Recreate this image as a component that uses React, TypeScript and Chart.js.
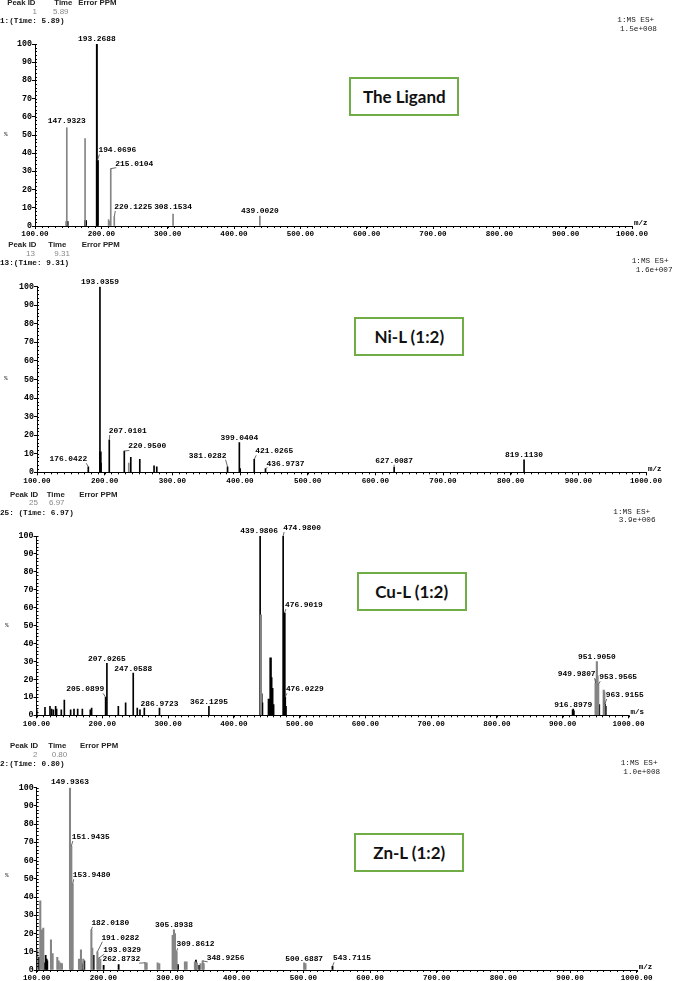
import React, { useEffect, useRef } from "react";
import { Chart, registerables } from "chart.js";
Chart.register(...registerables);

// ================= DATA =================
// Axis ticks
const xTickStep = 100;
const xMin = 100;
const xMax = 1000;
const yTickStep = 10;

// ---- Panel 1: The Ligand ----
const ligGreyMz = [147.93, 175.5, 211, 213, 214.2, 219.5, 308.15, 439.0];
const ligGreyInt = [54, 48, 3.5, 2.5, 31.5, 5, 6.5, 5.5];
const ligBlackMz = [193.27];
const ligBlackInt = [100];
const ligBoldMz = [148.4, 176.2, 194.07];
const ligBoldInt = [2.5, 3, 36];
const ligLabelText = ["193.2688", "147.9323", "194.0696", "215.0104", "220.1225", "308.1534", "439.0020"];
const ligLabelMz = [193.27, 147.93, 194.07, 214.2, 219.5, 308.15, 439.0];
const ligLabelInt = [100, 54, 36, 31.5, 5, 6.5, 5.5];

// ---- Panel 2: Ni-L (1:2) ----
const niGreyMz = [235.6];
const niGreyInt = [5];
const niBlackMz = [175.8, 193.04, 194.6, 206.8, 229, 238.6, 251.9, 273, 277, 381.6, 399.04, 400.3, 421.03, 437.7, 627.8, 819.8];
const niBlackInt = [3, 100, 5, 17.4, 11.5, 8, 7, 3.5, 3, 3, 16, 2, 7, 2, 2.7, 6.7];
const niBoldMz = [193.6];
const niBoldInt = [11];
const niLabelText = ["176.0422", "193.0359", "207.0101", "220.9500", "381.0282", "399.0404", "421.0265", "436.9737", "627.0087", "819.1130"];
const niLabelMz = [175.8, 193.04, 206.8, 229, 381.6, 399.04, 421.03, 437.7, 627.8, 819.8];
const niLabelInt = [3, 100, 17.4, 11.5, 3, 16, 7, 2, 2.7, 6.7];

// ---- Panel 3: Cu-L (1:2) ----
const cuGreyMz = [441.2, 949.98, 950.9, 951.9, 952.9, 953.96, 962.4, 963.2];
const cuGreyInt = [56, 18, 20, 30, 22, 17, 14, 13];
const cuBlackMz = [100.5, 112.9, 120.5, 123.0, 125.6, 129.1, 130.6, 137.7, 142.3, 151.9, 157.0, 162.6, 169.7, 181.8, 183.8, 205.09, 207.03, 224.4, 235.5, 247.06, 253.2, 257.3, 263.9, 286.97, 362.13, 439.98, 474.98, 915.0, 916.0, 917.0];
const cuBlackInt = [3, 4.5, 5, 3.5, 3, 5, 3.5, 3, 8.5, 3, 3.5, 3.5, 3.5, 3, 4, 10, 29, 5, 7, 23.5, 4, 3, 4, 4, 5, 100, 100, 3, 3.5, 2.5];
const cuBoldMz = [441.9, 442.9, 453.3, 455.9, 456.9, 458.4, 459.9, 476.9, 477.6, 478.7, 951.5, 952.5, 955.0, 963.9, 964.9];
const cuBoldInt = [12, 7, 9, 32, 21, 15, 6, 57, 10, 5, 11, 10, 6, 6.3, 5];
const cuLabelText = ["439.9806", "474.9800", "476.9019", "476.0229", "207.0265", "205.0899", "247.0588", "286.9723", "362.1295", "916.8979", "949.9807", "951.9050", "953.9565", "963.9155"];
const cuLabelMz = [439.98, 474.98, 476.9, 477.6, 207.03, 205.09, 247.06, 286.97, 362.13, 916.0, 949.98, 951.9, 953.96, 963.9];
const cuLabelInt = [100, 100, 57, 10, 29, 10, 23.5, 4, 5, 3.5, 18, 30, 17, 6.3];

// ---- Panel 4: Zn-L (1:2) ----
const znGreyMz = [100.9, 105.4, 107.9, 109.9, 121.4, 123.9, 130.9, 132.9, 135.4, 137.9, 149.94, 151.94, 153.95, 163.4, 165.4, 166.4, 169.9, 182.02, 183.4, 191.03, 193.03, 195.4, 262.87, 264.9, 281.4, 283.9, 303.9, 305.89, 307.4, 309.86, 322.3, 324.8, 337.3, 340.3, 345.8, 348.93, 350.5, 501.2, 503.2];
const znGreyInt = [11, 38, 22, 23, 16.5, 9, 7, 5, 4, 3.5, 100, 68, 47, 6, 5, 11, 6, 22, 12, 10, 6.5, 6, 4, 4, 4, 3.5, 19, 22, 20, 10, 4.5, 4.5, 4.5, 4, 3.5, 5, 3.5, 4, 3.5];
const znBlackMz = [103.4, 111.4, 113.4, 114.9, 115.9, 153.0, 167.4, 168.9, 171.4, 185.4, 200.4, 222.9, 311.9, 338.8, 343.8, 543.71];
const znBlackInt = [7, 4, 8, 6, 5, 9, 4, 3, 5, 8, 2.5, 3, 3, 5.5, 2.5, 2];
const znLabelText = ["149.9363", "151.9435", "153.9480", "182.0180", "191.0282", "193.0329", "262.8732", "305.8938", "309.8612", "348.9256", "500.6887", "543.7115"];
const znLabelMz = [149.94, 151.94, 153.95, 182.02, 191.03, 193.03, 262.87, 305.89, 309.86, 348.93, 501.2, 543.71];
const znLabelInt = [100, 68, 47, 22, 10, 6.5, 4, 22, 10, 5, 4, 2];

// ================= LAYOUT / STYLE =================
type Align = "left" | "right" | "center";
type LabelPos = [number, number, Align, boolean]; // dx, dy, align, leader

const GREY = "#858585";
const BLACK = "#000000";
const MONO = '"Liberation Mono", "DejaVu Sans Mono", monospace';
const SANS = '"Liberation Sans", Arial, sans-serif';

const ligLabelPos: LabelPos[] = [
  [0, -5, "center", false],
  [0, -6.5, "center", false],
  [1, -10, "left", true],
  [4.5, -5, "left", true],
  [0, -10, "left", true],
  [0, -7, "center", false],
  [0, -5, "center", false],
];
const niLabelPos: LabelPos[] = [
  [-1, -7.5, "right", true],
  [0, -4.5, "center", false],
  [-0.5, -9, "left", true],
  [4, -4.5, "left", true],
  [-1, -11, "right", true],
  [0, -5, "center", false],
  [1, -8, "left", true],
  [1, -5, "left", true],
  [0, -6.5, "center", true],
  [0, -5, "center", false],
];
const cuLabelPos: LabelPos[] = [
  [-1, -5, "center", false],
  [0, -8, "left", true],
  [0.5, -8, "left", true],
  [1, -8, "left", true],
  [0, -4, "center", false],
  [-1.5, -8, "right", true],
  [0, -4, "center", false],
  [0, -4, "center", false],
  [0, -4, "center", false],
  [0, -4, "center", false],
  [0, -9, "right", true],
  [0, -4, "center", false],
  [1, -7.5, "left", true],
  [1, -9, "left", true],
];
const znLabelPos: LabelPos[] = [
  [0, -5.5, "center", false],
  [0.5, -9, "left", true],
  [0, -9, "left", true],
  [0, -7, "left", true],
  [4, -14, "left", true],
  [4.5, -8, "left", true],
  [-5, -3.5, "right", true],
  [0, -5, "center", false],
  [0, -7.5, "left", true],
  [4, -3, "left", true],
  [0, -3.7, "center", false],
  [0.5, -8, "left", true],
];

interface Series { mz: number[]; int: number[]; color: string; thick: number }
interface Panel {
  key: string;
  top: number; height: number;
  yW: number; padTop: number; padRight: number; xH: number;
  series: Series[];
  labelText: string[]; labelMz: number[]; labelInt: number[]; labelPos: LabelPos[];
  unit: string;
  header: { hy: number; hx: [number, number, number]; id: string; idx: number; time: string; timex: number; run: string };
  ms: { x: number; y: number; l1: string; l2: string; x2: number };
  pct: { x: number; y: number };
  box: { x: number; y: number; text: string };
}

const panels: Panel[] = [
  {
    key: "lig", top: 0, height: 240, yW: 35, padTop: 44, padRight: 41, xH: 14,
    series: [
      { mz: ligGreyMz, int: ligGreyInt, color: GREY, thick: 1 },
      { mz: ligBlackMz, int: ligBlackInt, color: BLACK, thick: 1.3 },
      { mz: ligBoldMz, int: ligBoldInt, color: BLACK, thick: 2.3 },
    ],
    labelText: ligLabelText, labelMz: ligLabelMz, labelInt: ligLabelInt, labelPos: ligLabelPos,
    unit: "m/z",
    header: { hy: 3, hx: [7.3, 54.3, 78.3], id: "1", idx: 37, time: "5.89", timex: 53, run: "1:(Time: 5.89)" },
    ms: { x: 617.3, y: 21, l1: "1:MS ES+", l2: "1.5e+008", x2: 620 },
    pct: { x: 4, y: 135 },
    box: { x: 349.3, y: 77.3, text: "The Ligand" },
  },
  {
    key: "ni", top: 240, height: 250, yW: 37, padTop: 46.7, padRight: 27, xH: 17.7,
    series: [
      { mz: niGreyMz, int: niGreyInt, color: GREY, thick: 1 },
      { mz: niBlackMz, int: niBlackInt, color: BLACK, thick: 1 },
      { mz: niBoldMz, int: niBoldInt, color: BLACK, thick: 2 },
    ],
    labelText: niLabelText, labelMz: niLabelMz, labelInt: niLabelInt, labelPos: niLabelPos,
    unit: "m/z",
    header: { hy: 245, hx: [8.3, 48.3, 81.7], id: "13", idx: 35, time: "9.31", timex: 54.3, run: "13:(Time: 9.31)" },
    ms: { x: 631.7, y: 261.7, l1: "1:MS ES+", l2: "1.6e+007", x2: 635.7 },
    pct: { x: 4, y: 379 },
    box: { x: 354.3, y: 317, text: "Ni-L (1:2)" },
  },
  {
    key: "cu", top: 490, height: 245, yW: 36.5, padTop: 46, padRight: 44.5, xH: 19.7,
    series: [
      { mz: cuGreyMz, int: cuGreyInt, color: GREY, thick: 1.5 },
      { mz: cuBlackMz, int: cuBlackInt, color: BLACK, thick: 1 },
      { mz: cuBoldMz, int: cuBoldInt, color: BLACK, thick: 1.8 },
    ],
    labelText: cuLabelText, labelMz: cuLabelMz, labelInt: cuLabelInt, labelPos: cuLabelPos,
    unit: "m/s",
    header: { hy: 494.7, hx: [10, 46.7, 79.3], id: "25", idx: 38, time: "6.97", timex: 49, run: "25: (Time: 6.97)" },
    ms: { x: 613.3, y: 512.3, l1: "1:MS ES+", l2: "3.9e+006", x2: 618.7 },
    pct: { x: 5, y: 625.7 },
    box: { x: 356.7, y: 572.3, text: "Cu-L (1:2)" },
  },
  {
    key: "zn", top: 735, height: 246, yW: 36.7, padTop: 52.7, padRight: 36.3, xH: 11,
    series: [
      { mz: znGreyMz, int: znGreyInt, color: GREY, thick: 1.4 },
      { mz: znBlackMz, int: znBlackInt, color: BLACK, thick: 1.2 },
    ],
    labelText: znLabelText, labelMz: znLabelMz, labelInt: znLabelInt, labelPos: znLabelPos,
    unit: "m/z",
    header: { hy: 746, hx: [10, 48.3, 80], id: "2", idx: 37.5, time: "0.80", timex: 51.7, run: "2:(Time: 0.80)" },
    ms: { x: 620.7, y: 764, l1: "1:MS ES+", l2: "1.0e+008", x2: 623.3 },
    pct: { x: 5, y: 876 },
    box: { x: 354.3, y: 833.3, text: "Zn-L (1:2)" },
  },
];

// ================= CHART =================
function makePlugin(p: Panel) {
  return {
    id: "msDecor_" + p.key,
    afterDraw(chart: any) {
      const ctx = chart.ctx;
      const xs = chart.scales.x;
      const ys = chart.scales.y;
      const a = chart.chartArea;
      ctx.save();
      // minor ticks on x axis
      ctx.strokeStyle = "#000";
      ctx.lineWidth = 1;
      ctx.beginPath();
      for (let v = xMin; v <= xMax; v += 10) {
        const px = Math.round(xs.getPixelForValue(v)) + 0.5;
        ctx.moveTo(px, a.bottom);
        ctx.lineTo(px, a.bottom + 2);
      }
      // minor ticks on y axis
      for (let v = 0; v <= 100; v += 2) {
        const py = Math.round(ys.getPixelForValue(v)) + 0.5;
        ctx.moveTo(a.left, py);
        ctx.lineTo(a.left + 2, py);
      }
      ctx.stroke();
      // unit label
      ctx.fillStyle = "#000";
      ctx.font = `bold 7.5px ${MONO}`;
      ctx.textAlign = "left";
      ctx.textBaseline = "middle";
      ctx.fillText(p.unit, a.right + 2, a.bottom - 3);
      // peak labels
      ctx.font = `bold 7.9px ${MONO}`;
      p.labelText.forEach((t, i) => {
        const px = xs.getPixelForValue(p.labelMz[i]);
        const py = ys.getPixelForValue(p.labelInt[i]);
        const [dx, dy, align, leader] = p.labelPos[i];
        const tx = px + dx;
        const ty = py + dy;
        if (leader) {
          const ex = align === "left" ? tx + 1 : align === "right" ? tx - 1 : tx;
          ctx.strokeStyle = "#444";
          ctx.lineWidth = 0.8;
          ctx.beginPath();
          ctx.moveTo(px, py);
          ctx.lineTo(ex, ty + 4);
          ctx.stroke();
        }
        ctx.textAlign = align;
        ctx.fillStyle = "#000";
        ctx.fillText(t, tx, ty);
      });
      ctx.restore();
    },
  };
}

function SpectrumPanel({ p }: { p: Panel }) {
  const ref = useRef<HTMLCanvasElement | null>(null);
  useEffect(() => {
    if (!ref.current) return;
    const tickFont = { family: MONO, size: 7.6, weight: "bold" as const };
    const chart = new Chart(ref.current, {
      type: "bar",
      data: {
        datasets: p.series.map((s) => ({
          data: s.mz.map((m, i) => ({ x: m, y: s.int[i] })),
          backgroundColor: s.color,
          borderWidth: 0,
          barThickness: s.thick,
          grouped: false,
        })),
      },
      options: {
        animation: false,
        responsive: false,
        maintainAspectRatio: false,
        layout: { padding: { left: 0, right: p.padRight, top: p.padTop, bottom: 0 } },
        plugins: { legend: { display: false }, tooltip: { enabled: false } },
        scales: {
          x: {
            type: "linear",
            min: xMin,
            max: xMax,
            offset: false,
            ticks: {
              stepSize: xTickStep,
              autoSkip: false,
              maxRotation: 0,
              padding: 1,
              color: "#000",
              font: tickFont,
              callback: (v: any) => Number(v).toFixed(2),
            },
            grid: { display: true, drawOnChartArea: false, drawTicks: true, tickLength: 3, color: "#000", offset: false },
            border: { display: true, color: "#000", width: 1 },
            afterFit: (s: any) => { s.height = p.xH; s.paddingLeft = 0; s.paddingRight = 0; },
          },
          y: {
            min: 0,
            max: 100,
            ticks: { stepSize: yTickStep, padding: 0, color: "#000", font: { family: MONO, size: 8.3, weight: "bold" } },
            grid: { display: true, drawOnChartArea: false, drawTicks: true, tickLength: 3, color: "#000" },
            border: { display: true, color: "#000", width: 1 },
            afterFit: (s: any) => { s.width = p.yW; s.paddingTop = 0; s.paddingBottom = 0; },
          },
        },
      } as any,
      plugins: [makePlugin(p)],
    });
    return () => chart.destroy();
  }, [p]);
  return (
    <canvas
      ref={ref}
      width={673}
      height={p.height}
      style={{ position: "absolute", left: 0, top: p.top, width: 673, height: p.height }}
    />
  );
}

function Txt(props: { x: number; y: number; text: string; size: number; family: string; weight?: string | number; color?: string; align?: "left" | "right" }) {
  const { x, y, text, size, family, weight, color, align } = props;
  const h = size * 1.2;
  return (
    <div
      style={{
        position: "absolute",
        left: x,
        top: y - h / 2,
        height: h,
        lineHeight: `${h}px`,
        fontSize: size,
        fontFamily: family,
        fontWeight: weight ?? "normal",
        color: color ?? "#000",
        whiteSpace: "pre",
        transform: align === "right" ? "translateX(-100%)" : undefined,
      }}
    >
      {text}
    </div>
  );
}

export default function App() {
  return (
    <div style={{ position: "absolute", left: 0, top: 0, width: 673, height: 981, background: "#fff", overflow: "hidden" }}>
      {panels.map((p) => (
        <SpectrumPanel key={p.key} p={p} />
      ))}
      {panels.map((p) => (
        <React.Fragment key={"t" + p.key}>
          <Txt x={p.header.hx[0]} y={p.header.hy} text="Peak ID" size={7.8} family={SANS} weight="bold" color="#222" />
          <Txt x={p.header.hx[1]} y={p.header.hy} text="Time" size={7.8} family={SANS} weight="bold" color="#222" />
          <Txt x={p.header.hx[2]} y={p.header.hy} text="Error PPM" size={7.8} family={SANS} weight="bold" color="#222" />
          <Txt x={p.header.idx} y={p.header.hy + 8.5} text={p.header.id} size={8} family={SANS} color="#888" align="right" />
          <Txt x={p.header.timex} y={p.header.hy + 8.5} text={p.header.time} size={8} family={SANS} color="#888" />
          <Txt x={0} y={p.header.hy + 18.5} text={p.header.run} size={7.7} family={MONO} weight="bold" color="#111" />
          <Txt x={p.ms.x} y={p.ms.y} text={p.ms.l1} size={7.7} family={MONO} color="#222" />
          <Txt x={p.ms.x2} y={p.ms.y + 8.5} text={p.ms.l2} size={7.7} family={MONO} color="#222" />
          <Txt x={p.pct.x} y={p.pct.y} text="%" size={6} family={MONO} color="#222" />
          <div
            style={{
              position: "absolute",
              left: p.box.x,
              top: p.box.y,
              width: 110,
              height: 38.7,
              boxSizing: "border-box",
              border: "2px solid #70AD47",
              background: "#fff",
              display: "flex",
              alignItems: "center",
              justifyContent: "center",
              fontFamily: "Lato, 'Open Sans', sans-serif",
              fontWeight: 700,
              fontSize: 17,
              color: "#111",
            }}
          >
            {p.box.text}
          </div>
        </React.Fragment>
      ))}
    </div>
  );
}
